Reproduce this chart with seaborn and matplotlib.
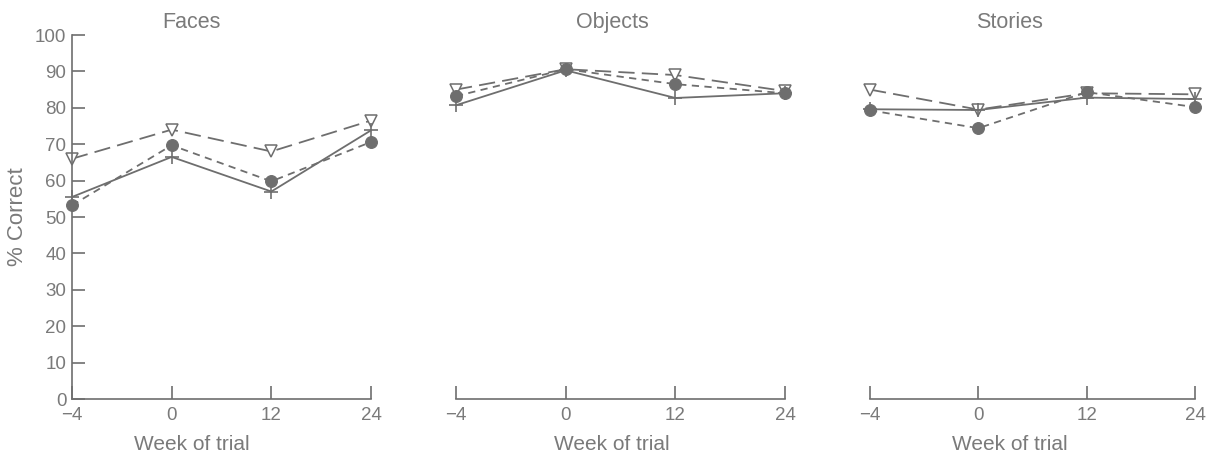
import numpy as np
import pandas as pd
import matplotlib
matplotlib.use("Agg")
import matplotlib.pyplot as plt
import seaborn as sns

sns.set_theme(style="white")
plt.rcParams['font.family'] = ['Liberation Sans', 'DejaVu Sans']

weeks = ["\u22124", "0", "12", "24"]
panels = ["Faces", "Objects", "Stories"]

# series: triangle (long dash), circle (short dash), plus (solid)
faces_tri = [66, 74, 68, 76.5]
faces_dot = [53.2, 69.7, 59.8, 70.6]
faces_plus = [55.5, 66.5, 57, 73.8]

objects_tri = [85, 90.6, 89, 84.6]
objects_dot = [83.2, 90.6, 86.5, 84]
objects_plus = [80.7, 90.3, 82.7, 84]

stories_tri = [85, 79.5, 84, 83.7]
stories_dot = [79.3, 74.4, 84.3, 80.2]
stories_plus = [79.6, 79.4, 82.8, 82.4]

data = {
    "Faces": (faces_tri, faces_dot, faces_plus),
    "Objects": (objects_tri, objects_dot, objects_plus),
    "Stories": (stories_tri, stories_dot, stories_plus),
}

yticks = list(range(0, 101, 10))

line_col = "#6e6e6e"
text_col = "#7a7a7a"

fig = plt.figure(figsize=(12.08, 4.59), dpi=100)
W, H = 1208, 459
# pixel extents of each panel (x of -4 and 24), y of 0 and 100
extents = [(72, 371), (456, 785), (870, 1195)]
y0, y100 = 399, 35
title_x = [0.40, 0.475, 0.43]

styles = [
    dict(marker="v", linestyle=(0, (9, 4)), markerfacecolor="white",
         markeredgecolor=line_col, markersize=8.5, markeredgewidth=1.1),
    dict(marker="o", linestyle=(0, (4, 3)), markerfacecolor=line_col,
         markeredgecolor=line_col, markersize=8.5, markeredgewidth=0.8),
    dict(marker="+", linestyle="-", markerfacecolor=line_col,
         markeredgecolor=line_col, markersize=10, markeredgewidth=1.2),
]

for i, name in enumerate(panels):
    xl, xr = extents[i]
    ax = fig.add_axes([xl / W, 1 - y0 / H, (xr - xl) / W, (y0 - y100) / H])
    for vals, st in zip(data[name], styles):
        df = pd.DataFrame({"week": weeks, "pct": vals})
        sns.lineplot(data=df, x="week", y="pct", ax=ax, color=line_col,
                     linewidth=1.3, sort=False, clip_on=False, **st)
    ax.set_xlim(0, 3)
    ax.set_ylim(0, 100)
    ax.set_xticks(range(len(weeks)))
    ax.set_xticklabels(weeks)
    for s in ["top", "right"]:
        ax.spines[s].set_visible(False)
    ax.spines["bottom"].set_color(line_col)
    ax.spines["bottom"].set_linewidth(1.2)
    ax.tick_params(axis="x", bottom=True, direction="in", length=9.5, width=1.2,
                   color=line_col, labelcolor=text_col, labelsize=13.5, pad=6)
    if i == 0:
        ax.spines["left"].set_color(line_col)
        ax.spines["left"].set_linewidth(1.2)
        ax.set_yticks(yticks)
        ax.tick_params(axis="y", left=True, direction="in", length=9.5, width=1.2,
                       color=line_col, labelcolor=text_col, labelsize=13.5, pad=4)
        ax.set_ylabel("% Correct", color=text_col, fontsize=16, labelpad=5)
    else:
        ax.spines["left"].set_visible(False)
        ax.set_yticks([])
        ax.set_ylabel("")
    ax.set_xlabel("Week of trial", color=text_col, fontsize=15)
    ax.xaxis.set_label_coords(title_x[i], -0.10)
    ax.set_title(name, color=text_col, fontsize=15.5, x=title_x[i], pad=5)
    ax.set_facecolor("none")

fig.savefig("out.png", dpi=100, facecolor="white")
